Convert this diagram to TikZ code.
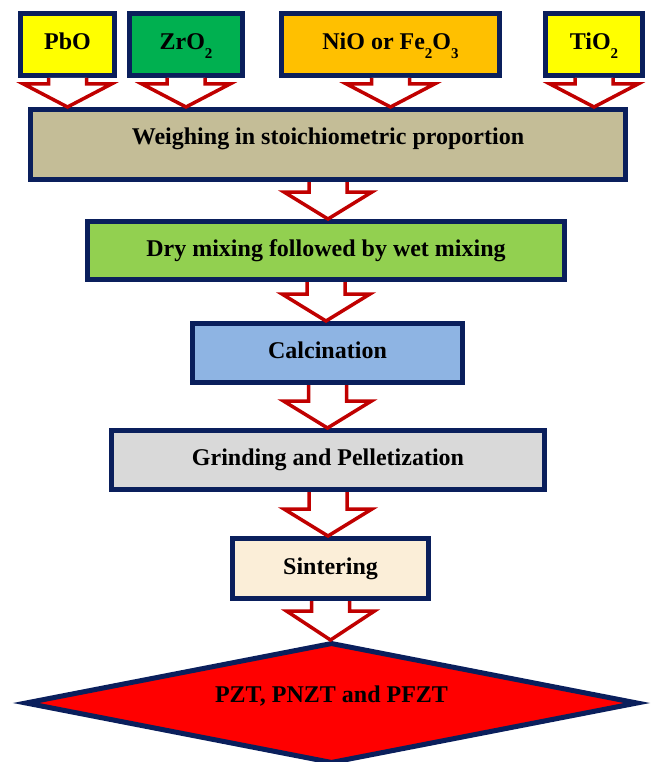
\documentclass[tikz,border=0pt]{standalone}
\usepackage{fontspec}
\setmainfont{Liberation Serif}
\usetikzlibrary{calc,shapes.geometric}
\definecolor{navy}{HTML}{0A1F5C}
\definecolor{arrowred}{HTML}{C00000}
\definecolor{cyellow}{HTML}{FFFF00}
\definecolor{cgreen}{HTML}{00B050}
\definecolor{corange}{HTML}{FFC000}
\definecolor{ctan}{HTML}{C4BD97}
\definecolor{clime}{HTML}{92D050}
\definecolor{cblue}{HTML}{8EB4E3}
\definecolor{cgrey}{HTML}{D9D9D9}
\definecolor{ccream}{HTML}{FBEED8}
\definecolor{cred}{HTML}{FF0000}
\newcommand\mysub[1]{\smash{\raisebox{-9pt}{\fontsize{15}{15}\selectfont #1}}}
\newcommand\blockarrow[3][27]{%
  \path[barrow] let \p1=(#2.south), \p2=(#3.north) in
    (\x1-19pt,\y1) -- (\x1-19pt,\y2+#1pt) -- (\x1-44pt,\y2+#1pt) -- (\x1,\y2)
    -- (\x1+44pt,\y2+#1pt) -- (\x1+19pt,\y2+#1pt) -- (\x1+19pt,\y1);}
\tikzset{
  box/.style={draw=navy, line width=5pt, inner sep=0pt,
    font=\fontsize{24}{28}\selectfont\bfseries, text height=16pt, text depth=5pt},
  barrow/.style={draw=arrowred, fill=white, line width=3.5pt}
}
\begin{document}
\begin{tikzpicture}[x=1pt,y=-1pt]
\useasboundingbox (0,0) rectangle (651,762);
% raw materials
\node[box, fill=cyellow, minimum width=94pt, minimum height=62pt] (pbo) at (67.5,44.5) {PbO};
\node[box, fill=cgreen, minimum width=113pt, minimum height=62pt] (zro) at (186,44.5) {ZrO\mysub{2}};
\node[box, fill=corange, minimum width=218pt, minimum height=62pt] (nio) at (390.5,44.5) {NiO or Fe\mysub{2}O\mysub{3}};
\node[box, fill=cyellow, minimum width=97pt, minimum height=62pt] (tio) at (594,44.5) {TiO\mysub{2}};
% process steps
\node[box, fill=ctan, minimum width=595pt, minimum height=70pt, text depth=16pt] (weigh) at (328,144.5) {Weighing in stoichiometric proportion};
\node[box, fill=clime, minimum width=477pt, minimum height=58pt] (dry) at (326,250.5) {Dry mixing followed by wet mixing};
\node[box, fill=cblue, minimum width=270pt, minimum height=59pt] (calc) at (327.5,353) {Calcination};
\node[box, fill=cgrey, minimum width=433pt, minimum height=59pt] (grind) at (328,460) {Grinding and Pelletization};
\node[box, fill=ccream, minimum width=196pt, minimum height=60pt] (sint) at (330.5,568.5) {Sintering};
\node[box, diamond, aspect=5, fill=cred, minimum width=613pt, minimum height=121pt, text depth=18pt] (pzt) at (331.5,703) {PZT, PNZT and PFZT};
% arrows
\blockarrow[23]{pbo}{weigh}
\blockarrow[23]{zro}{weigh}
\blockarrow[23]{nio}{weigh}
\blockarrow[23]{tio}{weigh}
\blockarrow{weigh}{dry}
\blockarrow{dry}{calc}
\blockarrow{calc}{grind}
\blockarrow{grind}{sint}
\blockarrow[29]{sint}{pzt}
\end{tikzpicture}
\end{document}
